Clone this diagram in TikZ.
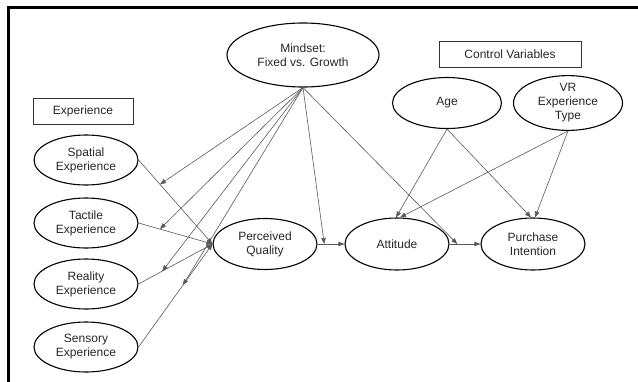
\documentclass[tikz,border=0pt]{standalone}
\usepackage{fontspec}
\setmainfont{Liberation Sans}
\usetikzlibrary{shapes.geometric,arrows.meta,calc}
\begin{document}
\begin{tikzpicture}[x=1pt,y=-1pt,
  txt/.style={font=\fontsize{12}{14}\selectfont, align=center, text=black!85},
  var/.style={txt, ellipse, draw=black, line width=1.1pt, inner sep=0pt, minimum width=104pt, minimum height=50pt},
  lbl/.style={txt, rectangle, draw=black!80, line width=1pt, inner sep=0pt, minimum height=26pt},
  conn/.style={draw=black!65, line width=0.6pt, -{Triangle[length=6pt,width=4.5pt]}},
  frameline/.style={line width=2.6pt, black}]
\useasboundingbox (0,0) rectangle (638,381);
\draw[frameline] (8.5,395) -- (8.5,7.5) -- (650,7.5);

\node[var, minimum width=152pt, minimum height=64pt] (mind) at (303,55) {Mindset:\\Fixed vs. Growth};
\node[lbl, minimum width=100pt] (exp) at (83,111) {Experience};
\node[lbl, minimum width=142pt] (ctrl) at (510,54) {Control Variables};

\node[var] (spa) at (86,160) {Spatial\\Experience};
\node[var] (tac) at (86,223) {Tactile\\Experience};
\node[var] (rea) at (86,284) {Reality\\Experience};
\node[var] (sen) at (86,347) {Sensory\\Experience};

\node[var, minimum height=51pt] (pq) at (265,244) {Perceived\\Quality};
\node[var, minimum height=52pt] (att) at (397,244) {Attitude};
\node[var, minimum height=52pt] (pi) at (533,244) {Purchase\\Intention};

\node[var, minimum width=109pt, minimum height=51pt] (age) at (447,103) {Age};
\node[var, minimum width=109pt, minimum height=51pt] (vr) at (568,103) {VR\\Experience\\Type};

% experience paths
\draw[conn] (spa.east) -- coordinate[pos=0.29] (ms) (pq.west);
\draw[conn] (tac.east) -- coordinate[pos=0.29] (mt) (pq.west);
\draw[conn] (rea.east) -- coordinate[pos=0.32] (mr) (pq.west);
\draw[conn] (sen.east) -- coordinate[pos=0.6] (mse) (pq.west);

% main chain
\draw[conn] (pq.east) -- coordinate[pos=0.25] (mpa) (att.west);
\draw[conn] (att.east) -- coordinate[pos=0.25] (map) (pi.west);

% moderation from mindset
\draw[conn] (mind.south) -- (ms);
\draw[conn] (mind.south) -- (mt);
\draw[conn] (mind.south) -- (mr);
\draw[conn] (mind.south) -- (mse);
\draw[conn] (mind.south) -- (mpa);
\draw[conn] (mind.south) -- (map);

% controls
\draw[conn] (age.south) -- ([xshift=-1pt]att.north);
\draw[conn] (age.south) -- ([xshift=-2pt]pi.north);
\draw[conn] (vr.south) -- ([xshift=3pt]att.north);
\draw[conn] (vr.south) -- ([xshift=2pt]pi.north);
\end{tikzpicture}
\end{document}
